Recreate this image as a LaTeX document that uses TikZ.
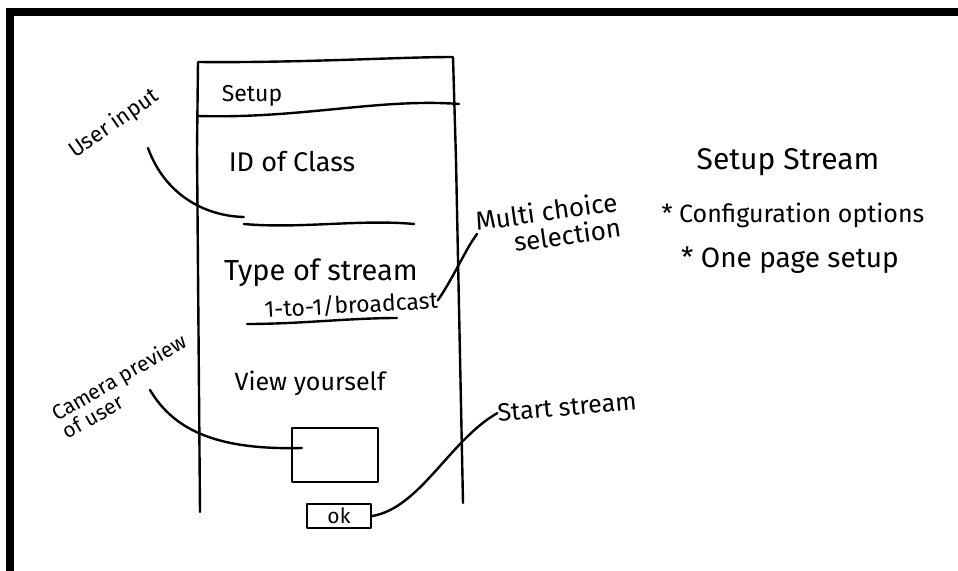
\documentclass[tikz,border=0pt]{standalone}
\usepackage{fontspec}
\setmainfont{Fira Sans}
\usetikzlibrary{positioning}

\tikzset{
  sketch/.style={line width=2.4pt, line cap=round, line join=round},
  hand/.style={font=\fontsize{#1}{#1}\selectfont, inner sep=0pt, align=center},
  hand/.default=22,
}

\begin{document}
\begin{tikzpicture}[x=1pt,y=-1pt]
    \useasboundingbox (0,0) rectangle (958,570);
    \clip (0,0) rectangle (958,570);

    % outer frame
    \draw[line width=8pt] (10,12) rectangle (975,575);

    % phone outline
    \draw[sketch] (200,512) -- (197,150) -- (198,62)
        .. controls (300,63) and (400,57) .. (453,57)
        -- (456,160) -- (463,503);
    % header divider
    \draw[sketch] (198,116) .. controls (300,119) and (380,98) .. (459,104);
    \node[hand=23] (title) at (252,96) {Setup};

    % class id field
    \node[hand=27] (classid) at (292,162) {ID of Class};
    \node[minimum width=170pt, inner sep=0pt] (field) at (329,224) {};
    \draw[sketch] (field.west) .. controls (300,229) and (360,219) .. (field.east);

    % stream type
    \node[hand=29] (stype) at (321,273) {Type of stream};
    \node[hand=23, rotate=3] (bcast) at (351,305) {1-to-1/broadcast};
    \draw[sketch] (247,324) .. controls (300,324) and (350,318) .. (397,318);

    % preview
    \node[hand=25] (viewself) at (310,383) {View yourself};
    \node[draw, sketch, minimum width=86pt, minimum height=54pt] (cam) at (335,455) {};

    % ok button
    \node[draw, sketch, hand=21, minimum width=64pt, minimum height=24pt] (okbtn) at (339,516) {ok};

    % annotations
    \node[hand=22, rotate=35] (userlbl) at (114,124) {User input};
    \node[hand=26, rotate=8, align=right] (multilbl) at (548,224) {Multi choice\\selection};
    \node[hand=21, rotate=30, align=left] (camlbl) at (124,386) {Camera preview\\of user};
    \node[hand=25, rotate=5] (startlbl) at (567,407) {Start stream};

    \coordinate (userpt) at (148,148);
    \coordinate (campt) at (150,390);
    \draw[sketch] (userpt) .. controls (165,195) and (205,216) .. ([yshift=7pt]field.west);
    \draw[sketch] (bcast.east) .. controls (455,275) and (465,250) .. (multilbl.west);
    \draw[sketch] (campt) .. controls (175,432) and (220,450) .. ([xshift=11pt,yshift=7pt]cam.west);
    \draw[sketch] (okbtn.east) .. controls (420,508) and (450,440) .. (startlbl.west);

    % summary notes
    \node[hand=30] (heading) at (788,162) {Setup Stream};
    \node[hand=25] (noteone) at (793,215) {* Configuration options};
    \node[hand=28] (notetwo) at (790,260) {* One page setup};
\end{tikzpicture}
\end{document}
